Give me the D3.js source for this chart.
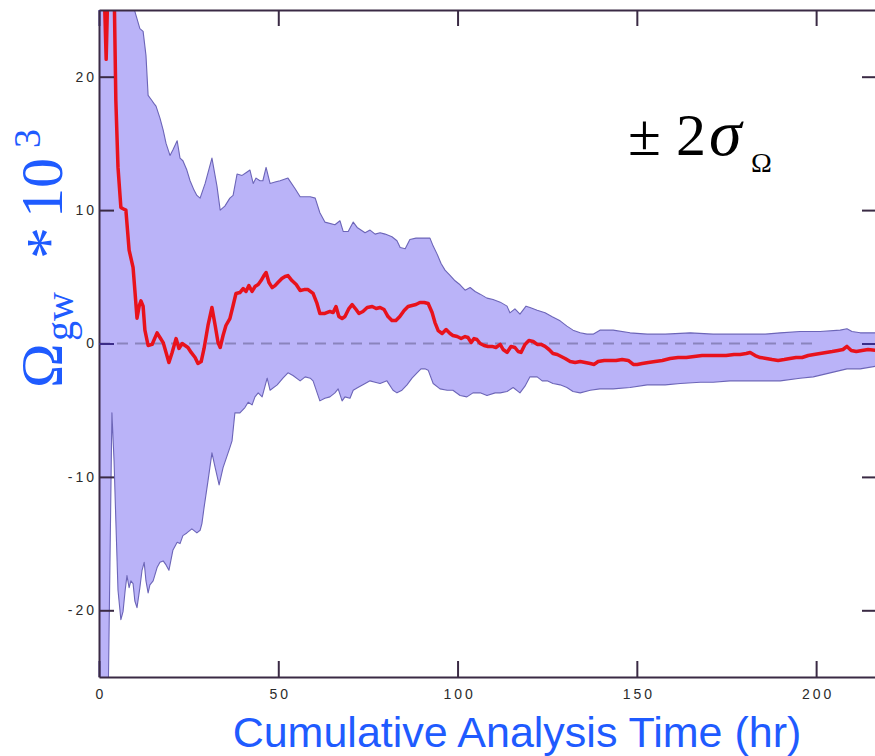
<!DOCTYPE html>
<html>
<head>
<meta charset="utf-8">
<script src="https://cdn.jsdelivr.net/npm/d3@7"></script>
<style>
  html, body { margin: 0; padding: 0; background: #fff; }
  svg { display: block; }
</style>
</head>
<body>
<script>
// Running estimate of the stochastic background amplitude (Omega_gw x 10^3)
// versus cumulative analysis time, with its +/- 2 sigma envelope.

const meanHours = [1.4,2.0,2.5,3.3,4.2,4.7,5.3,6.1,6.7,7.5,8.4,9.5,10.0,10.6,11.2,11.7,12.3,12.8,13.7,14.8,16.2,17.0,17.9,18.7,19.5,20.4,21.5,22.3,23.2,24.0,24.8,25.7,26.8,27.6,28.5,29.3,30.4,31.5,32.4,33.2,33.8,34.6,35.4,36.5,37.4,38.2,39.3,40.2,41.0,41.8,42.7,43.5,44.4,45.2,46.0,46.6,47.4,48.3,49.1,49.9,51.0,51.9,52.7,53.8,55.0,56.1,57.2,58.3,59.7,60.8,61.6,63.0,64.4,65.3,66.1,66.9,67.8,68.6,69.7,70.6,71.7,72.5,73.6,74.8,76.2,77.3,78.4,79.5,80.6,81.7,82.8,83.9,85.1,86.2,87.3,88.4,89.5,90.7,91.8,92.9,93.7,94.6,95.7,96.8,97.9,98.7,99.9,101.0,102.1,102.9,103.8,104.6,105.4,106.3,107.4,108.5,109.6,110.7,111.9,112.7,113.8,114.9,116.0,116.9,117.7,118.8,119.9,121.1,122.2,123.3,124.4,125.5,126.6,127.8,128.9,130.0,131.4,132.8,134.2,135.6,137.0,138.1,139.2,140.9,142.5,144.2,145.9,147.6,149.0,150.1,151.5,153.2,155.1,157.1,159.3,161.5,163.8,166.0,168.2,170.5,172.7,174.9,177.1,178.8,180.5,181.6,183.0,184.4,186.1,187.7,189.4,191.1,192.7,194.4,196.1,197.8,199.4,201.1,202.8,204.5,206.1,207.5,208.6,209.8,211.2,212.8,214.5,216.7];
const meanOmega = [27,21.3,27,30,27,18.2,13.2,10.2,10.1,10.0,7.0,5.7,4.0,1.9,2.8,3.2,2.8,1.0,-0.15,-0.07,0.8,0.45,0.07,-0.67,-1.42,-0.67,0.37,-0.37,0.0,-0.15,-0.3,-0.67,-1.05,-1.5,-1.35,-0.37,1.35,2.7,1.35,0.07,-0.3,0.6,1.35,1.87,2.85,3.75,3.82,4.12,3.9,4.34,3.9,4.27,4.42,4.72,5.09,5.32,4.57,4.19,4.34,4.57,4.87,5.02,5.09,4.72,4.42,3.97,4.04,4.04,3.75,3.0,2.25,2.25,2.4,2.32,2.77,2.02,1.87,2.02,2.62,2.92,2.55,2.25,2.4,2.7,2.77,2.62,2.7,2.55,2.02,1.72,1.72,2.02,2.47,2.77,2.85,2.92,3.07,3.07,3.0,2.32,1.57,0.97,0.75,1.05,0.75,0.6,0.52,0.37,0.52,0.45,0.07,0.37,0.3,0.0,-0.15,-0.22,-0.22,-0.3,-0.07,-0.45,-0.67,-0.22,-0.3,-0.6,-0.67,-0.07,0.22,0.15,-0.07,-0.07,-0.22,-0.45,-0.75,-0.82,-0.97,-1.12,-1.35,-1.42,-1.35,-1.42,-1.5,-1.57,-1.35,-1.27,-1.27,-1.27,-1.2,-1.27,-1.57,-1.57,-1.5,-1.42,-1.35,-1.27,-1.12,-1.05,-1.05,-0.97,-0.9,-0.9,-0.9,-0.9,-0.82,-0.82,-0.75,-0.67,-0.9,-1.05,-1.12,-1.2,-1.27,-1.2,-1.12,-1.05,-1.05,-0.9,-0.82,-0.75,-0.67,-0.6,-0.52,-0.45,-0.22,-0.52,-0.6,-0.52,-0.45,-0.52];

const upperHours = [0,9.5,10.0,11.4,12.3,13.1,13.7,14.8,15.3,15.9,17.0,17.9,18.7,19.8,20.6,21.8,22.6,23.4,24.5,25.4,26.5,27.3,28.2,29.6,31.5,32.9,33.8,35.1,36.5,37.4,38.5,39.9,41.0,42.1,43.0,43.8,44.9,45.7,46.6,47.7,49.1,50.5,52.7,54.7,56.1,58.9,60.3,61.6,63.0,65.8,67.2,68.1,69.5,70.9,72.0,74.2,75.6,77.0,78.4,79.8,81.7,83.1,84.0,85.4,86.7,88.4,90.1,92.3,93.2,94.3,95.4,96.5,97.9,99.3,100.7,102.1,103.5,104.9,106.3,108.2,109.9,111.9,113.8,114.6,116.0,117.4,119.1,120.2,122.2,124.4,126.4,128.6,130.5,132.2,134.2,136.1,137.8,139.7,143.4,148.1,152.9,157.9,164.9,171.3,176.0,180.8,185.8,190.0,195.5,201.1,206.7,208.6,210.0,212.3,216.7];
const upperOmega = [40,27.9,24.9,23.6,23.4,21.6,18.6,18.2,18.0,17.8,16.9,16.0,15.0,14.1,14.5,15.2,13.9,13.7,13.0,12.2,11.5,11.1,10.9,12.0,13.9,11.8,10.0,10.3,10.9,11.1,12.7,12.6,12.8,13.0,12.0,12.4,12.2,12.2,13.2,12.0,12.1,12.2,12.4,11.6,11.0,11.0,10.9,9.8,9.1,8.9,9.2,8.4,8.4,9.1,8.7,8.3,8.5,8.2,8.3,8.2,8.0,7.7,7.2,7.1,7.8,7.9,7.9,7.9,7.3,6.7,6.0,5.5,5.1,4.7,4.4,4.0,4.2,3.9,3.7,3.4,3.3,3.1,2.8,2.3,2.6,2.2,2.8,2.7,2.5,2.3,2.0,1.7,1.3,1.0,0.8,0.7,0.7,1.0,1.0,0.8,0.7,0.7,0.8,0.7,0.7,0.7,0.7,0.8,0.9,0.9,1.0,1.1,0.9,0.8,0.8];

const lowerHours = [0,2.5,3.6,4.2,4.7,5.3,6.1,6.7,7.3,7.8,8.4,8.9,9.5,10.0,10.6,11.4,12.0,12.6,13.1,13.7,14.2,15.1,16.2,17.0,17.9,18.7,19.5,20.6,21.8,22.6,23.4,24.5,25.9,27.3,28.2,28.7,29.3,30.4,31.5,32.4,33.5,34.6,36.5,37.1,37.9,39.3,40.7,41.6,42.7,43.5,44.4,45.5,46.9,47.7,49.7,51.3,52.7,54.1,56.1,57.5,58.9,59.7,61.6,63.0,64.4,65.8,66.7,67.8,68.6,70.0,70.9,72.2,73.6,75.6,77.0,78.4,80.3,82.0,83.1,84.5,85.9,87.3,88.7,89.8,90.9,91.8,93.2,95.1,97.1,98.7,100.7,102.6,104.3,106.3,108.2,110.5,111.9,113.8,115.5,117.4,118.8,120.2,122.2,123.6,125.0,126.6,128.6,130.5,132.2,134.2,137.0,139.7,143.4,148.1,152.9,157.9,162.1,167.7,171.3,176.0,180.8,185.8,190.0,195.5,199.2,203.9,208.6,212.3,216.7];
const lowerOmega = [-28,-28,-5.2,-8.8,-13.3,-18.5,-20.7,-20.1,-18.5,-17.4,-18.3,-17.8,-18.0,-19.3,-19.8,-18.3,-17.0,-16.4,-17.8,-18.7,-18.1,-17.8,-16.8,-16.4,-16.3,-16.6,-17.0,-15.5,-14.9,-15.0,-14.4,-14.2,-13.9,-14.2,-14.0,-13.5,-12.3,-10.3,-8.2,-9.3,-10.6,-9.3,-7.8,-7.3,-5.2,-5.2,-4.8,-4.4,-4.6,-4.0,-3.7,-4.0,-2.6,-3.5,-3.1,-2.6,-2.2,-2.4,-2.8,-2.5,-2.6,-2.8,-4.3,-4.1,-4.0,-3.7,-3.4,-4.3,-4.0,-4.1,-3.5,-3.3,-3.1,-2.8,-2.9,-3.0,-2.8,-3.5,-3.7,-3.5,-3.1,-2.6,-2.2,-1.9,-1.9,-2.0,-3.0,-3.4,-3.5,-3.5,-3.9,-4.0,-3.7,-3.7,-3.9,-3.7,-3.7,-3.6,-3.3,-3.7,-3.2,-2.5,-2.5,-2.8,-2.8,-3.0,-3.1,-3.3,-3.6,-3.7,-3.5,-3.4,-3.4,-3.3,-3.1,-3.1,-3.0,-2.9,-2.9,-2.8,-2.8,-2.8,-2.8,-2.6,-2.5,-2.2,-1.9,-1.9,-1.7];

const xTicks = [0, 50, 100, 150, 200];
const yTicks = [-20, -10, 0, 10, 20];

const W = 875, H = 756;
const x = d3.scaleLinear().domain([0, 216.7]).range([99, 876]);
const y = d3.scaleLinear().domain([-25, 25]).range([677, 10]);

const svg = d3.select("body").append("svg").attr("width", W).attr("height", H);

svg.append("clipPath").attr("id", "plot-clip")
  .append("rect").attr("x", 99).attr("y", 10).attr("width", 777).attr("height", 667);

const plot = svg.append("g").attr("clip-path", "url(#plot-clip)");

// envelope: upper edge left-to-right, lower edge back right-to-left
const upperPts = upperHours.map((h, i) => [h, upperOmega[i]]);
const lowerPts = lowerHours.map((h, i) => [h, lowerOmega[i]]).reverse();
const bandLine = d3.line().x(d => x(d[0])).y(d => y(d[1]));

plot.append("path")
  .attr("d", bandLine(upperPts.concat(lowerPts)) + "Z")
  .attr("fill", "#bab3f8")
  .attr("stroke", "#6c65b8")
  .attr("stroke-width", 1.1)
  .attr("stroke-linejoin", "round");

// zero reference
plot.append("line")
  .attr("x1", x(0)).attr("x2", x(200))
  .attr("y1", y(0)).attr("y2", y(0))
  .attr("stroke", "#8a84bd")
  .attr("stroke-width", 2)
  .attr("stroke-dasharray", "11,7");

// running mean
const meanLine = d3.line().x((h) => x(h)).y((h, i) => y(meanOmega[i]));
plot.append("path")
  .attr("d", meanLine(meanHours))
  .attr("fill", "none")
  .attr("stroke", "#e8121c")
  .attr("stroke-width", 3.5)
  .attr("stroke-linejoin", "round");

// axes
const axisColor = "#3a2a44";
function styleAxis(g) {
  g.select(".domain").attr("stroke", axisColor).attr("stroke-width", 2);
  g.selectAll(".tick line").attr("stroke", axisColor).attr("stroke-width", 2);
  g.selectAll(".tick text")
    .attr("fill", "#2b2b2b")
    .style("font-family", "'Liberation Sans', Arial, sans-serif")
    .style("font-size", "14px")
    .style("letter-spacing", "3px");
}

svg.append("g").attr("transform", "translate(0,677)")
  .call(d3.axisBottom(x).tickValues(xTicks).tickSize(-16).tickSizeOuter(0).tickPadding(12).tickFormat(d => String(d)))
  .call(styleAxis)
  .call(g => g.selectAll(".tick text").attr("dx", 1.5));

svg.append("g").attr("transform", "translate(0,10)")
  .call(d3.axisTop(x).tickValues(xTicks).tickSize(-16).tickSizeOuter(0).tickFormat(""))
  .call(styleAxis);

svg.append("g").attr("transform", "translate(99,0)")
  .call(d3.axisLeft(y).tickValues(yTicks).tickSize(-15).tickSizeOuter(0).tickPadding(2).tickFormat(d => String(d)))
  .call(styleAxis);

svg.append("g").attr("transform", "translate(876,0)")
  .call(d3.axisRight(y).tickValues(yTicks).tickSize(-14).tickSizeOuter(0).tickFormat(""))
  .call(styleAxis);

// zero ticks sit inside the shaded envelope
svg.selectAll(".tick").filter(d => d === 0).select("line").attr("stroke", "#3b2c88");

// x title
svg.append("text")
  .attr("x", 517).attr("y", 747)
  .attr("text-anchor", "middle")
  .attr("fill", "#1f5bff")
  .style("font-family", "'Liberation Sans', Arial, sans-serif")
  .style("font-size", "43px")
  .text("Cumulative Analysis Time (hr)");

// y title, rotated to read bottom-to-top
const serif = "'Liberation Serif', 'Times New Roman', serif";
const yTitle = svg.append("text")
  .attr("transform", "translate(62,388) rotate(-90)")
  .attr("fill", "#1f5bff")
  .style("font-family", serif)
  .style("font-size", "60px");
yTitle.append("tspan").attr("x", 0).attr("y", 0).text("Ω");
yTitle.append("tspan").attr("x", 47).attr("y", 11).style("font-size", "40px").text("gw");
yTitle.append("tspan").attr("x", 129).attr("y", 8).style("font-size", "64px").text("*");
yTitle.append("tspan").attr("x", 170).attr("y", 0).text("10");
yTitle.append("tspan").attr("x", 240).attr("y", -22).style("font-size", "38px").text("3");

// envelope annotation
const sig = svg.append("text")
  .attr("fill", "#000")
  .style("font-family", serif)
  .style("font-size", "60px");
sig.append("tspan").attr("x", 628).attr("y", 155).text("±");
sig.append("tspan").attr("x", 676).attr("y", 155).text("2");
sig.append("tspan").attr("x", 709).attr("y", 155).style("font-style", "italic").style("font-size", "66px").text("σ");
sig.append("tspan").attr("x", 751).attr("y", 172).style("font-size", "28px").text("Ω");
</script>
</body>
</html>
